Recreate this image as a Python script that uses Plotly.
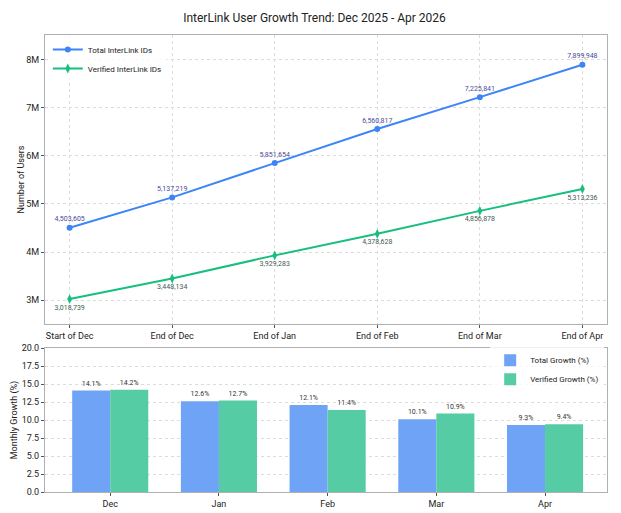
import plotly.graph_objects as go
from plotly.subplots import make_subplots

# line chart data
months = ['Start of Dec', 'End of Dec', 'End of Jan', 'End of Feb', 'End of Mar', 'End of Apr']
total_ids = [4503605, 5137219, 5851654, 6560817, 7225841, 7899948]
verified_ids = [3018739, 3448134, 3929283, 4378628, 4856878, 5313236]

# bar chart data
growth_months = ['Dec', 'Jan', 'Feb', 'Mar', 'Apr']
total_growth = [14.1, 12.6, 12.1, 10.1, 9.3]
verified_growth = [14.2, 12.7, 11.4, 10.9, 9.4]

blue = '#3d85f7'
green = '#17bf7e'
bar_blue = '#6ea3f5'
bar_green = '#55cca3'
grid = '#dcdcdc'
spine = '#b0b0b0'

fig = make_subplots(rows=2, cols=1)

fig.add_trace(go.Scatter(
    x=list(range(len(months))), y=total_ids, name='Total InterLink IDs',
    mode='lines+markers+text', line=dict(color=blue, width=2),
    marker=dict(symbol='circle', size=6, color=blue),
    text=[f'{v:,}' for v in total_ids], textposition='top center',
    textfont=dict(size=7, color='#4a4a9c'), legend='legend'
), row=1, col=1)

fig.add_trace(go.Scatter(
    x=list(range(len(months))), y=verified_ids, name='Verified InterLink IDs',
    mode='lines+markers+text', line=dict(color=green, width=2),
    marker=dict(symbol='diamond-tall', size=7, color=green),
    text=[f'{v:,}' for v in verified_ids], textposition='bottom center',
    textfont=dict(size=7, color='#3f5a55'), legend='legend'
), row=1, col=1)

fig.add_trace(go.Bar(
    x=list(range(len(growth_months))), y=total_growth, name='Total Growth (%)',
    marker=dict(color=bar_blue, line=dict(width=0)), width=0.35, offset=-0.35,
    text=[f'{v}%' for v in total_growth], textposition='outside', cliponaxis=False,
    textfont=dict(size=7, color='#333333'), legend='legend2'
), row=2, col=1)

fig.add_trace(go.Bar(
    x=list(range(len(growth_months))), y=verified_growth, name='Verified Growth (%)',
    marker=dict(color=bar_green, line=dict(width=0)), width=0.35, offset=0,
    text=[f'{v}%' for v in verified_growth], textposition='outside', cliponaxis=False,
    textfont=dict(size=7, color='#333333'), legend='legend2'
), row=2, col=1)

axis_common = dict(showline=True, mirror=True, linecolor=spine, linewidth=1,
                   ticks='outside', ticklen=3, tickcolor='#555555', automargin=False,
                   tickfont=dict(size=9, color='#222222'), zeroline=False)

fig.update_xaxes(**axis_common, domain=[0, 1])
fig.update_yaxes(**axis_common)

fig.update_xaxes(row=1, col=1, range=[-0.24, 5.24], tickvals=list(range(len(months))),
                 ticktext=months, showgrid=True, gridcolor=grid, griddash='dot')
fig.update_yaxes(row=1, col=1, range=[2.5e6, 8.52e6], domain=[0.3676, 1.0],
                 tickvals=[3e6, 4e6, 5e6, 6e6, 7e6, 8e6],
                 ticktext=['3M', '4M', '5M', '6M', '7M', '8M'],
                 showgrid=True, gridcolor=grid, griddash='dot',
                 title=dict(text='Number of Users', font=dict(size=9, color='#222222'), standoff=0))

fig.update_xaxes(row=2, col=1, range=[-0.6, 4.57], tickvals=list(range(len(growth_months))),
                 ticktext=growth_months, showgrid=False)
fig.update_yaxes(row=2, col=1, range=[0, 20], domain=[0, 0.315],
                 tickvals=[0, 2.5, 5, 7.5, 10, 12.5, 15, 17.5, 20],
                 ticktext=['0.0', '2.5', '5.0', '7.5', '10.0', '12.5', '15.0', '17.5', '20.0'],
                 showgrid=True, gridcolor=grid, griddash='dot',
                 title=dict(text='Monthly Growth (%)', font=dict(size=9, color='#222222'), standoff=2))

# page has an 8px body margin, so size and margins are trimmed by that
fig.update_layout(
    width=613, height=505,
    margin=dict(l=37, r=14, t=27, b=21, autoexpand=False),
    paper_bgcolor='white', plot_bgcolor='white',
    font=dict(family='Roboto, sans-serif', size=9, color='#222222'),
    title=dict(text='InterLink User Growth Trend: Dec 2025 - Apr 2026',
               x=0.5, xanchor='center', y=0.98, yanchor='middle',
               font=dict(size=12, color='#222222')),
    barmode='overlay',
    legend=dict(x=0.005, y=1.0, xanchor='left', yanchor='top', bgcolor='rgba(255,255,255,0.8)',
                font=dict(size=8), tracegroupgap=0, itemwidth=30),
    legend2=dict(x=0.995, y=0.32, xanchor='right', yanchor='top', bgcolor='rgba(255,255,255,0.8)',
                 font=dict(size=8), itemwidth=30),
)

fig.write_html('out.html')
